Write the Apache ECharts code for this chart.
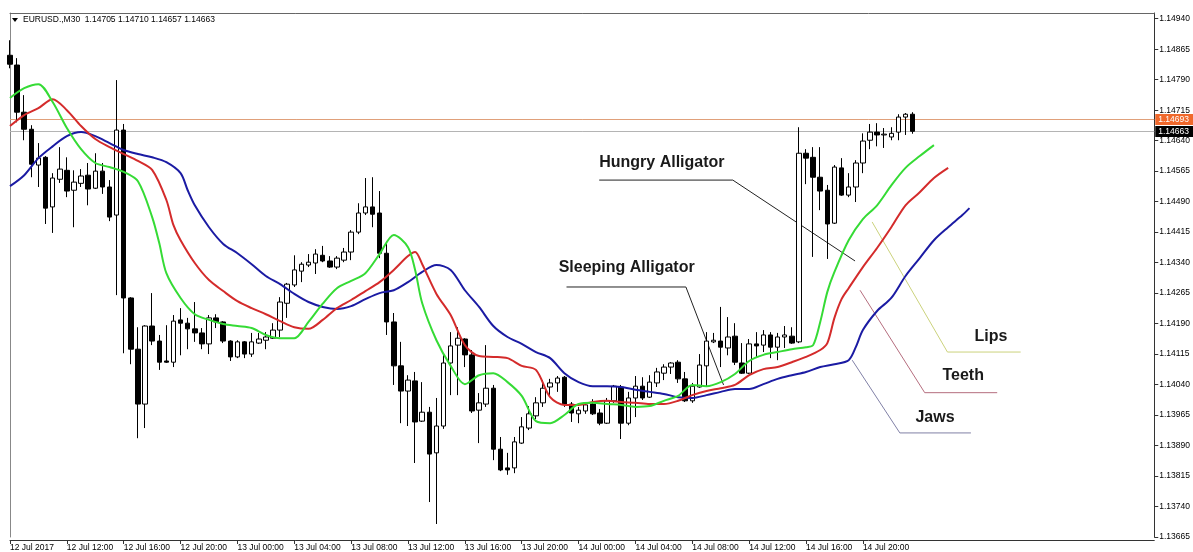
<!DOCTYPE html>
<html lang="en" style="height: 100%">

<head>
  <meta charset="utf-8">
  <title>EURUSD M30 - Alligator</title>
</head>

<body style="height: 100%; margin: 0; background: #fff">
  <div id="container" style="width: 1193px; height: 552px;"></div>

  <script type="text/javascript" src="https://cdn.jsdelivr.net/npm/echarts@6/dist/echarts.min.js"></script>
  <script type="text/javascript">
    const symbol = 'EURUSD.,M30';

    // one label every 8 bars (4 hours of M30)
    const timeLabels = ['12 Jul 2017', '12 Jul 12:00', '12 Jul 16:00', '12 Jul 20:00', '13 Jul 00:00',
      '13 Jul 04:00', '13 Jul 08:00', '13 Jul 12:00', '13 Jul 16:00', '13 Jul 20:00', '14 Jul 00:00',
      '14 Jul 04:00', '14 Jul 08:00', '14 Jul 12:00', '14 Jul 16:00', '14 Jul 20:00'];
    const barsPerLabel = 8;
    const slotCount = 162;

    // [open, close, low, high]
    const ohlc = [
      [1.14850, 1.14828, 1.14818, 1.14887], [1.14826, 1.14710, 1.14685, 1.14843], [1.14710, 1.14668, 1.14641, 1.14752],
      [1.14668, 1.14582, 1.14550, 1.14678], [1.14580, 1.14597, 1.14526, 1.14634], [1.14599, 1.14474, 1.14435, 1.14602],
      [1.14477, 1.14548, 1.14413, 1.14560], [1.14545, 1.14570, 1.14536, 1.14624], [1.14567, 1.14516, 1.14501, 1.14599],
      [1.14518, 1.14538, 1.14427, 1.14567], [1.14535, 1.14553, 1.14526, 1.14570], [1.14555, 1.14521, 1.14481, 1.14585],
      [1.14523, 1.14565, 1.14521, 1.14609], [1.14565, 1.14526, 1.14509, 1.14585], [1.14526, 1.14452, 1.14442, 1.14543],
      [1.14457, 1.14666, 1.14260, 1.14789], [1.14666, 1.14253, 1.14117, 1.14681], [1.14253, 1.14127, 1.14090, 1.14255],
      [1.14127, 1.13992, 1.13908, 1.14181], [1.13992, 1.14184, 1.13933, 1.14186], [1.14184, 1.14147, 1.14137, 1.14265],
      [1.14147, 1.14095, 1.14076, 1.14162], [1.14098, 1.14095, 1.14093, 1.14186], [1.14095, 1.14196, 1.14083, 1.14211],
      [1.14199, 1.14191, 1.14112, 1.14228], [1.14191, 1.14177, 1.14127, 1.14204], [1.14177, 1.14167, 1.14145, 1.14243],
      [1.14167, 1.14140, 1.14127, 1.14179], [1.14140, 1.14204, 1.14115, 1.14211], [1.14204, 1.14194, 1.14179, 1.14213],
      [1.14194, 1.14147, 1.14142, 1.14196], [1.14147, 1.14108, 1.14098, 1.14149], [1.14108, 1.14145, 1.14105, 1.14149],
      [1.14145, 1.14115, 1.14105, 1.14147], [1.14115, 1.14145, 1.14108, 1.14167], [1.14142, 1.14152, 1.14140, 1.14167],
      [1.14149, 1.14157, 1.14127, 1.14169], [1.14154, 1.14174, 1.14152, 1.14191], [1.14174, 1.14243, 1.14157, 1.14255],
      [1.14240, 1.14287, 1.14204, 1.14290], [1.14285, 1.14322, 1.14280, 1.14358], [1.14319, 1.14336, 1.14292, 1.14341],
      [1.14334, 1.14341, 1.14329, 1.14361], [1.14339, 1.14361, 1.14312, 1.14373], [1.14358, 1.14344, 1.14341, 1.14381],
      [1.14344, 1.14329, 1.14327, 1.14356], [1.14329, 1.14351, 1.14324, 1.14356], [1.14346, 1.14366, 1.14341, 1.14376],
      [1.14366, 1.14415, 1.14346, 1.14420], [1.14415, 1.14462, 1.14410, 1.14486], [1.14462, 1.14477, 1.14457, 1.14548],
      [1.14477, 1.14459, 1.14427, 1.14550], [1.14462, 1.14363, 1.14351, 1.14516], [1.14363, 1.14194, 1.14162, 1.14388],
      [1.14194, 1.14086, 1.14039, 1.14216], [1.14086, 1.14024, 1.13945, 1.14145], [1.14024, 1.14051, 1.13938, 1.14063],
      [1.14049, 1.13948, 1.13847, 1.14071], [1.13950, 1.13972, 1.13948, 1.14046], [1.13972, 1.13869, 1.13751, 1.13985],
      [1.13872, 1.13938, 1.13697, 1.14007], [1.13938, 1.14093, 1.13931, 1.14117], [1.14093, 1.14135, 1.14014, 1.14169],
      [1.14137, 1.14154, 1.14014, 1.14181], [1.14152, 1.14113, 1.14083, 1.14154], [1.14113, 1.13975, 1.13970, 1.14125],
      [1.13977, 1.13995, 1.13896, 1.14019], [1.13992, 1.14031, 1.13985, 1.14137], [1.14031, 1.13881, 1.13854, 1.14039],
      [1.13881, 1.13830, 1.13827, 1.13911], [1.13835, 1.13830, 1.13818, 1.13872], [1.13835, 1.13899, 1.13822, 1.13911],
      [1.13896, 1.13936, 1.13894, 1.13960], [1.13933, 1.13968, 1.13928, 1.13987], [1.13963, 1.13995, 1.13955, 1.14009],
      [1.13995, 1.14031, 1.13985, 1.14051], [1.14034, 1.14044, 1.14012, 1.14054], [1.14044, 1.14056, 1.14022, 1.14061],
      [1.14058, 1.13992, 1.13985, 1.14061], [1.13992, 1.13970, 1.13948, 1.13997], [1.13968, 1.13977, 1.13945, 1.13985],
      [1.13975, 1.13990, 1.13968, 1.13995], [1.13992, 1.13968, 1.13965, 1.14004], [1.13970, 1.13945, 1.13940, 1.13980],
      [1.13945, 1.14000, 1.13943, 1.14007], [1.14000, 1.14036, 1.13995, 1.14039], [1.14034, 1.13945, 1.13906, 1.14039],
      [1.13945, 1.14007, 1.13940, 1.14022], [1.14007, 1.14036, 1.13960, 1.14061], [1.14036, 1.14007, 1.14002, 1.14058],
      [1.14009, 1.14046, 1.14007, 1.14063], [1.14044, 1.14071, 1.14034, 1.14081], [1.14068, 1.14083, 1.14051, 1.14090],
      [1.14083, 1.14093, 1.14066, 1.14095], [1.14095, 1.14054, 1.14044, 1.14100], [1.14054, 1.14000, 1.13997, 1.14071],
      [1.14000, 1.14036, 1.13995, 1.14044], [1.14034, 1.14088, 1.14032, 1.14115], [1.14086, 1.14147, 1.14034, 1.14169],
      [1.14145, 1.14149, 1.14142, 1.14167], [1.14147, 1.14132, 1.14083, 1.14231], [1.14130, 1.14157, 1.14112, 1.14206],
      [1.14159, 1.14095, 1.14088, 1.14191], [1.14093, 1.14068, 1.14066, 1.14142], [1.14068, 1.14140, 1.14066, 1.14152],
      [1.14140, 1.14135, 1.14108, 1.14169], [1.14137, 1.14162, 1.14120, 1.14174], [1.14162, 1.14132, 1.14105, 1.14169],
      [1.14132, 1.14157, 1.14100, 1.14167], [1.14157, 1.14162, 1.14130, 1.14184], [1.14159, 1.14142, 1.14140, 1.14181],
      [1.14145, 1.14609, 1.14142, 1.14673], [1.14609, 1.14597, 1.14533, 1.14619], [1.14599, 1.14550, 1.14354, 1.14624],
      [1.14550, 1.14516, 1.14469, 1.14624], [1.14518, 1.14435, 1.14349, 1.14531], [1.14437, 1.14575, 1.14435, 1.14580],
      [1.14573, 1.14506, 1.14504, 1.14597], [1.14506, 1.14526, 1.14501, 1.14560], [1.14526, 1.14585, 1.14489, 1.14592],
      [1.14585, 1.14639, 1.14560, 1.14658], [1.14641, 1.14661, 1.14619, 1.14681], [1.14661, 1.14654, 1.14626, 1.14683],
      [1.14654, 1.14656, 1.14622, 1.14671], [1.14649, 1.14658, 1.14641, 1.14673], [1.14661, 1.14698, 1.14641, 1.14705],
      [1.14698, 1.14705, 1.14654, 1.14708], [1.14705, 1.14663, 1.14657, 1.14710]
    ];

    // Alligator lines, [bar index, price] (already shifted forward)
    const lips = [[0, 1.14745], [2, 1.14769], [4, 1.14779], [6, 1.14735], [8, 1.14671], [10, 1.14619], [12, 1.14585],
      [14, 1.14575], [16, 1.14563], [18, 1.14540], [20, 1.14452], [21, 1.14388], [22, 1.14314], [24, 1.14253],
      [26, 1.14213], [28, 1.14199], [30, 1.14189], [32, 1.14184], [34, 1.14179], [36, 1.14162], [38, 1.14154],
      [40, 1.14154], [42, 1.14194], [44, 1.14239], [46, 1.14277], [48, 1.14295], [50, 1.14314], [52, 1.14361],
      [54, 1.14408], [56, 1.14378], [57, 1.14322], [58, 1.14240], [60, 1.14149], [62, 1.14086], [64, 1.14041],
      [66, 1.14063], [68, 1.14068], [70, 1.14046], [72, 1.14012], [74, 1.13950], [76, 1.13945], [78, 1.13965],
      [80, 1.13992], [82, 1.13995], [84, 1.13992], [86, 1.13990], [88, 1.13985], [90, 1.13987], [92, 1.14000],
      [94, 1.14012], [96, 1.14039], [98, 1.14036], [100, 1.14046], [102, 1.14066], [104, 1.14098], [106, 1.14113],
      [108, 1.14120], [110, 1.14127], [112, 1.14132], [113, 1.14137], [114, 1.14194], [115, 1.14268], [116, 1.14317],
      [118, 1.14395], [120, 1.14447], [122, 1.14481], [124, 1.14530], [126, 1.14573], [128, 1.14602], [130, 1.14629]];

    const teeth = [[0, 1.14676], [2, 1.14703], [4, 1.14720], [6, 1.14742], [8, 1.14715], [10, 1.14676], [12, 1.14644],
      [14, 1.14624], [16, 1.14607], [18, 1.14590], [20, 1.14568], [22, 1.14494], [23, 1.14432], [24, 1.14395],
      [26, 1.14339], [28, 1.14297], [30, 1.14270], [32, 1.14245], [34, 1.14228], [36, 1.14213], [38, 1.14196],
      [40, 1.14181], [42, 1.14177], [44, 1.14199], [46, 1.14228], [48, 1.14248], [50, 1.14270], [52, 1.14292],
      [54, 1.14322], [56, 1.14356], [57, 1.14366], [58, 1.14336], [60, 1.14263], [62, 1.14211], [64, 1.14137],
      [66, 1.14110], [68, 1.14108], [70, 1.14105], [72, 1.14086], [74, 1.14076], [76, 1.14009], [78, 1.13990],
      [80, 1.13990], [82, 1.13997], [84, 1.14000], [86, 1.13997], [88, 1.13995], [90, 1.13992], [92, 1.13992],
      [94, 1.14000], [96, 1.14014], [98, 1.14024], [100, 1.14031], [102, 1.14039], [104, 1.14063], [106, 1.14078],
      [108, 1.14083], [110, 1.14095], [112, 1.14108], [114, 1.14125], [115, 1.14142], [116, 1.14204], [117, 1.14250],
      [118, 1.14277], [120, 1.14329], [122, 1.14376], [124, 1.14427], [126, 1.14481], [128, 1.14513], [130, 1.14548],
      [132, 1.14573]];

    const jaws = [[0, 1.14528], [2, 1.14555], [4, 1.14597], [6, 1.14626], [8, 1.14651], [10, 1.14661], [12, 1.14651],
      [14, 1.14634], [16, 1.14617], [18, 1.14607], [20, 1.14599], [22, 1.14587], [24, 1.14560], [25, 1.14518],
      [26, 1.14481], [28, 1.14427], [30, 1.14386], [32, 1.14363], [34, 1.14336], [36, 1.14307], [38, 1.14287],
      [40, 1.14263], [42, 1.14243], [44, 1.14231], [46, 1.14226], [48, 1.14233], [50, 1.14250], [52, 1.14265],
      [54, 1.14272], [56, 1.14292], [58, 1.14317], [60, 1.14334], [62, 1.14322], [64, 1.14272], [66, 1.14231],
      [68, 1.14184], [70, 1.14157], [72, 1.14140], [74, 1.14120], [76, 1.14105], [78, 1.14068], [80, 1.14046],
      [82, 1.14036], [84, 1.14036], [86, 1.14034], [88, 1.14027], [90, 1.14022], [92, 1.14017], [94, 1.14009],
      [96, 1.14007], [98, 1.14014], [100, 1.14022], [102, 1.14029], [104, 1.14029], [106, 1.14041], [108, 1.14054],
      [110, 1.14063], [112, 1.14071], [114, 1.14083], [116, 1.14090], [118, 1.14100], [119, 1.14132], [120, 1.14174],
      [122, 1.14221], [124, 1.14253], [126, 1.14307], [128, 1.14351], [130, 1.14395], [132, 1.14427], [134, 1.14457],
      [135, 1.14474]];

    // ask / bid lines with their axis tags
    const priceLines = [
      { price: 1.14693, line: '#e0a07a', tag: '#f0682b' },
      { price: 1.14663, line: '#b4b4b4', tag: '#000000' }
    ];
    const priceMin = 1.13665;
    const priceMax = 1.14954;
    const priceStep = 0.00075;

    // callouts: text anchor and leader path in [bar index, price]
    const annotations = [
      { text: 'Hungry Alligator', at: [82.9, 1.14587], path: [[82.9, 1.14543], [101.7, 1.14543], [118.9, 1.14344]], color: '#222222' },
      { text: 'Sleeping Alligator', at: [77.2, 1.14327], path: [[78.3, 1.14280], [95.1, 1.14280], [100.4, 1.14039]], color: '#222222' },
      { text: 'Lips', at: [135.7, 1.14159], path: [[121.3, 1.14440], [131.9, 1.14120], [142.2, 1.14120]], color: '#cbd27c' },
      { text: 'Teeth', at: [131.2, 1.14061], path: [[119.6, 1.14272], [128.7, 1.14020], [138.9, 1.14020]], color: '#b56d7e' },
      { text: 'Jaws', at: [127.4, 1.13958], path: [[118.5, 1.14100], [125.2, 1.13921], [135.2, 1.13921]], color: '#8080a6' }
    ];

    const font = '"Liberation Sans", Arial, sans-serif';
    const slots = Array.from({ length: slotCount }, (_, i) => String(i));
    const lastBar = (timeLabels.length - 1) * barsPerLabel;
    const showTime = (i) => i % barsPerLabel === 0 && i <= lastBar;

    var dom = document.getElementById('container');
    var myChart = echarts.init(dom, null, { renderer: 'canvas' });

    var option = {
      animation: false,
      grid: { left: 10, right: 33, top: 13, bottom: 15 },
      xAxis: [{
        type: 'category',
        data: slots,
        boundaryGap: false,
        offset: 3,
        axisLine: { lineStyle: { color: '#333', width: 1 } },
        axisTick: { show: true, interval: showTime, length: 4, lineStyle: { color: '#333' } },
        axisLabel: {
          interval: showTime,
          formatter: (v, i) => timeLabels[i / barsPerLabel],
          align: 'left',
          margin: 3,
          color: '#000',
          fontSize: 8.5,
          fontFamily: font
        },
        splitLine: { show: false }
      }, {
        type: 'category',
        data: slots,
        boundaryGap: false,
        position: 'top',
        axisLine: { lineStyle: { color: '#666', width: 1 } },
        axisTick: { show: false },
        axisLabel: { show: false },
        splitLine: { show: false }
      }],
      yAxis: [{
        type: 'value',
        position: 'right',
        min: priceMin,
        max: priceMax,
        interval: priceStep,
        axisLine: { show: true, lineStyle: { color: '#333', width: 1 } },
        axisTick: { show: true, length: 4, lineStyle: { color: '#333' } },
        axisLabel: {
          formatter: (v) => v.toFixed(5),
          showMaxLabel: false,
          margin: 5,
          color: '#000',
          fontSize: 8.5,
          fontFamily: font
        },
        splitLine: { show: false }
      }, {
        type: 'value',
        position: 'left',
        min: priceMin,
        max: priceMax,
        axisLine: { show: true, lineStyle: { color: '#888', width: 1 } },
        axisTick: { show: false },
        axisLabel: { show: false },
        splitLine: { show: false }
      }],
      series: [{
        name: 'EURUSD',
        type: 'candlestick',
        data: ohlc,
        barWidth: 5,
        itemStyle: {
          color: '#ffffff',
          color0: '#000000',
          borderColor: '#000000',
          borderColor0: '#000000',
          borderWidth: 1
        }
      }, {
        name: 'Jaws',
        type: 'line',
        data: jaws,
        smooth: 0.3,
        showSymbol: false,
        lineStyle: { color: '#1b1ba3', width: 2 }
      }, {
        name: 'Teeth',
        type: 'line',
        data: teeth,
        smooth: 0.3,
        showSymbol: false,
        lineStyle: { color: '#d42b2b', width: 2 }
      }, {
        name: 'Lips',
        type: 'line',
        data: lips,
        smooth: 0.3,
        showSymbol: false,
        lineStyle: { color: '#35db35', width: 2 }
      }]
    };

    myChart.setOption(option);

    // fractional bar index -> pixel
    function toPixel(ix, price) {
      const i0 = Math.floor(ix);
      const a = myChart.convertToPixel({ xAxisIndex: 0, yAxisIndex: 0 }, [i0, price]);
      const b = myChart.convertToPixel({ xAxisIndex: 0, yAxisIndex: 0 }, [i0 + 1, price]);
      return [a[0] + (ix - i0) * (b[0] - a[0]), a[1]];
    }

    const graphics = [];

    // ask / bid lines across the plot plus the tags on the price scale
    const leftPx = toPixel(0, priceMin)[0];
    const rightPx = toPixel(slotCount - 1, priceMin)[0];
    priceLines.forEach(pl => {
      const y = Math.round(toPixel(0, pl.price)[1]) + 0.5;
      graphics.push({
        type: 'line',
        silent: true,
        z: 1,
        shape: { x1: leftPx, y1: y, x2: rightPx, y2: y },
        style: { stroke: pl.line, lineWidth: 1 }
      });
      graphics.push({
        type: 'rect',
        silent: true,
        z: 5,
        shape: { x: rightPx + 1, y: y - 5.5, width: 40, height: 11 },
        style: { fill: pl.tag }
      });
      graphics.push({
        type: 'text',
        silent: true,
        z: 6,
        x: rightPx + 4,
        y: y,
        style: { text: pl.price.toFixed(5), fill: '#fff', font: '8.5px ' + font, align: 'left', verticalAlign: 'middle' }
      });
    });

    annotations.forEach(item => {
      graphics.push({
        type: 'polyline',
        silent: true,
        shape: { points: item.path.map(p => toPixel(p[0], p[1])) },
        style: { stroke: item.color, lineWidth: 1, fill: null }
      });
      const pos = toPixel(item.at[0], item.at[1]);
      graphics.push({
        type: 'text',
        silent: true,
        x: pos[0],
        y: pos[1],
        style: {
          text: item.text,
          fill: '#1a1a1a',
          font: 'bold 16px ' + font,
          align: 'left',
          verticalAlign: 'middle'
        }
      });
    });

    //header with last bar values
    const last = ohlc[ohlc.length - 1];
    const header = symbol + '  ' + [last[0], last[3], last[2], last[1]].map(v => v.toFixed(5)).join(' ');
    graphics.push({
      type: 'polygon',
      silent: true,
      shape: { points: [[12, 18], [18, 18], [15, 22]] },
      style: { fill: '#000' }
    });
    graphics.push({
      type: 'text',
      silent: true,
      x: 23,
      y: 20,
      style: { text: header, fill: '#000', font: '8.5px ' + font, align: 'left', verticalAlign: 'middle' }
    });

    myChart.setOption({ graphic: graphics });

    window.addEventListener('resize', myChart.resize);
  </script>
</body>

</html>
